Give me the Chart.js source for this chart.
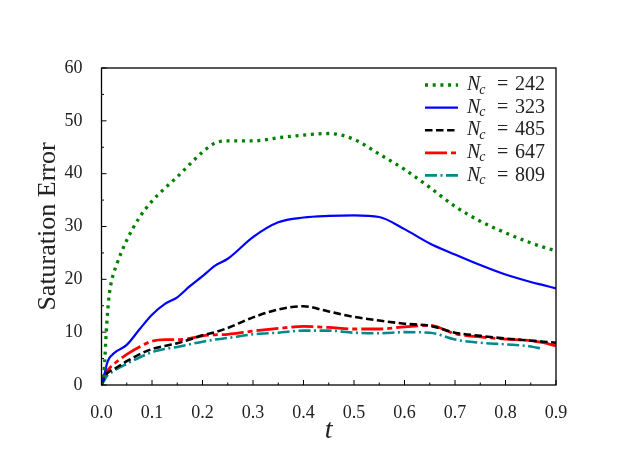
<!DOCTYPE html>
<html>
<head>
<meta charset="utf-8">
<script src="https://cdn.jsdelivr.net/npm/chart.js@4.4.1/dist/chart.umd.min.js"></script>
<style>
  body { margin: 0; background: #fff; }
  #wrap { width: 623px; height: 460px; }
</style>
</head>
<body>
<div id="wrap"><canvas id="errChart" width="623" height="460"></canvas></div>
<script>
// time samples
var tValues = [0, 0.005, 0.01, 0.015, 0.02, 0.03, 0.05, 0.075, 0.1, 0.125, 0.15, 0.175, 0.2, 0.225, 0.25,
               0.3, 0.35, 0.4, 0.45, 0.5, 0.55, 0.6, 0.65, 0.7, 0.75, 0.8, 0.85, 0.875, 0.9];

// saturation error per grid size
var err242 = [0, 2.5, 11, 16.8, 19.7, 22.8, 27.4, 31.7, 34.8, 37.2, 39.4, 41.8, 44.1, 45.8, 46.2,
              46.2, 46.8, 47.3, 47.6, 46.5, 43.7, 40.8, 37.4, 33.8, 31.0, 28.8, 26.9, 26.1, 25.4];
var err323 = [0, 1.5, 3.8, 5.0, 5.6, 6.4, 7.6, 10.5, 13.3, 15.3, 16.6, 18.7, 20.6, 22.6, 23.9,
              28.0, 30.8, 31.7, 32.0, 32.1, 31.8, 29.5, 26.8, 24.7, 22.7, 20.9, 19.5, 18.9, 18.3];
var err485 = [0, 1.3, 2.1, 2.5, 2.8, 3.3, 4.5, 5.8, 6.8, 7.4, 7.9, 8.6, 9.4, 10.0, 10.8,
              12.8, 14.3, 14.9, 13.9, 12.9, 12.2, 11.6, 11.2, 9.9, 9.3, 8.8, 8.4, 8.2, 8.0];
var err647 = [0, 1.8, 2.6, 3.1, 3.6, 4.4, 5.8, 7.2, 8.3, 8.6, 8.6, 8.8, 9.3, 9.5, 9.6,
              10.2, 10.7, 11.1, 10.9, 10.6, 10.6, 11.0, 11.3, 9.7, 9.1, 8.7, 8.4, 8.0, 7.4];
var err809 = [0, 0.8, 1.6, 2.1, 2.4, 3.0, 4.0, 5.2, 6.2, 6.8, 7.2, 7.7, 8.2, 8.6, 8.9,
              9.6, 9.9, 10.3, 10.3, 9.9, 9.8, 10.0, 9.9, 8.6, 8.0, 7.7, 7.3, 6.8, null];

var ncValues = [242, 323, 485, 647, 809];
var xTicks = [0, 0.1, 0.2, 0.3, 0.4, 0.5, 0.6, 0.7, 0.8, 0.9];
var yTicks = [0, 10, 20, 30, 40, 50, 60];

function toPoints(vals) {
    var pts = [];
    for (var i = 0; i < tValues.length; i++) {
        if (vals[i] !== null) pts.push({ x: tValues[i], y: vals[i] });
    }
    return pts;
}

var serif = '"Liberation Serif", "DejaVu Serif", serif';

// inward ticks (major + minor) on left and bottom, plus the frame
var frameTicks = {
    id: 'frameTicks',
    afterDatasetsDraw: function (chart) {
        var ctx = chart.ctx, a = chart.chartArea;
        var xs = chart.scales.x, ys = chart.scales.y;
        ctx.save();
        ctx.strokeStyle = '#000';
        ctx.lineWidth = 1;
        ctx.beginPath();
        xTicks.forEach(function (v, i) {
            var px = xs.getPixelForValue(v);
            ctx.moveTo(px, a.bottom); ctx.lineTo(px, a.bottom - 5);
            if (i < xTicks.length - 1) {
                var mx = xs.getPixelForValue((v + xTicks[i + 1]) / 2);
                ctx.moveTo(mx, a.bottom); ctx.lineTo(mx, a.bottom - 2.5);
            }
        });
        yTicks.forEach(function (v, i) {
            var py = ys.getPixelForValue(v);
            ctx.moveTo(a.left, py); ctx.lineTo(a.left + 5, py);
            if (i < yTicks.length - 1) {
                var my = ys.getPixelForValue((v + yTicks[i + 1]) / 2);
                ctx.moveTo(a.left, my); ctx.lineTo(a.left + 2.5, my);
            }
        });
        ctx.stroke();
        ctx.lineWidth = 1.3;
        ctx.strokeRect(a.left, a.top, a.right - a.left, a.bottom - a.top);
        ctx.restore();
    }
};

// legend with N_c subscript
var subLegend = {
    id: 'subLegend',
    afterDraw: function (chart) {
        var ctx = chart.ctx, a = chart.chartArea;
        ctx.save();
        chart.data.datasets.forEach(function (ds, i) {
            var y = a.top + 17 + i * 22.6;
            ctx.beginPath();
            ctx.strokeStyle = ds.borderColor;
            ctx.lineWidth = ds.borderWidth;
            ctx.setLineDash(ds.borderDash || []);
            ctx.lineCap = 'butt';
            ctx.moveTo(a.right - 131, y);
            ctx.lineTo(a.right - 98, y);
            ctx.stroke();
            ctx.setLineDash([]);

            ctx.fillStyle = '#222';
            ctx.textBaseline = 'middle';
            var x0 = a.right - 89;
            ctx.font = 'italic 20px ' + serif;
            ctx.fillText('N', x0, y);
            var nw = ctx.measureText('N').width;
            ctx.font = 'italic 14px ' + serif;
            ctx.fillText('c', x0 + nw - 1, y + 5);
            ctx.font = '20px ' + serif;
            ctx.fillText('=', x0 + 30, y);
            ctx.fillText(String(ncValues[i]), x0 + 48, y);
        });
        ctx.restore();
    }
};

var ctxErr = document.getElementById('errChart').getContext('2d');
var errChart = new Chart(ctxErr, {
    type: 'line',
    data: {
        datasets: [{
            label: 'N_c = 242',
            data: toPoints(err242),
            borderColor: '#008000',
            borderWidth: 3.3,
            borderDash: [3, 4.7]
        }, {
            label: 'N_c = 323',
            data: toPoints(err323),
            borderColor: '#0000ff',
            borderWidth: 2.2
        }, {
            label: 'N_c = 485',
            data: toPoints(err485),
            borderColor: '#000000',
            borderWidth: 2.6,
            borderDash: [7.5, 3.5]
        }, {
            label: 'N_c = 647',
            data: toPoints(err647),
            borderColor: '#ff0000',
            borderWidth: 2.8,
            borderDash: [22, 4, 5, 4]
        }, {
            label: 'N_c = 809',
            data: toPoints(err809),
            borderColor: '#008b8b',
            borderWidth: 2.6,
            borderDash: [12, 3.5, 2, 3.5]
        }]
    },
    options: {
        responsive: false,
        animation: false,
        layout: { padding: { left: 0, top: 68, right: 67, bottom: 0 } },
        elements: {
            point: { radius: 0 },
            line: { cubicInterpolationMode: 'monotone', borderCapStyle: 'butt', fill: false }
        },
        plugins: {
            legend: { display: false },
            tooltip: { enabled: false }
        },
        scales: {
            x: {
                type: 'linear',
                min: 0,
                max: 0.9,
                grid: { display: false },
                border: { display: false },
                afterBuildTicks: function (scale) {
                    scale.ticks = xTicks.map(function (v) { return { value: v }; });
                },
                afterFit: function (scale) { scale.height = 75; },
                ticks: {
                    padding: 9,
                    color: '#222',
                    font: { family: serif, size: 18 },
                    callback: function (v) { return v.toFixed(1); }
                },
                title: {
                    display: true,
                    text: 't',
                    color: '#222',
                    font: { family: serif, size: 28, style: 'italic', lineHeight: 1 },
                    padding: { top: 0, bottom: 15 }
                }
            },
            y: {
                min: 0,
                max: 60,
                grid: { display: false },
                border: { display: false },
                afterBuildTicks: function (scale) {
                    scale.ticks = yTicks.map(function (v) { return { value: v }; });
                },
                afterFit: function (scale) { scale.width = 101.5; },
                ticks: {
                    padding: 11,
                    color: '#222',
                    font: { family: serif, size: 18 }
                },
                title: {
                    display: true,
                    text: 'Saturation Error',
                    color: '#222',
                    font: { family: serif, size: 26, lineHeight: 1 },
                    padding: { top: 35, bottom: 0 }
                }
            }
        }
    },
    plugins: [frameTicks, subLegend]
});
</script>
</body>
</html>
